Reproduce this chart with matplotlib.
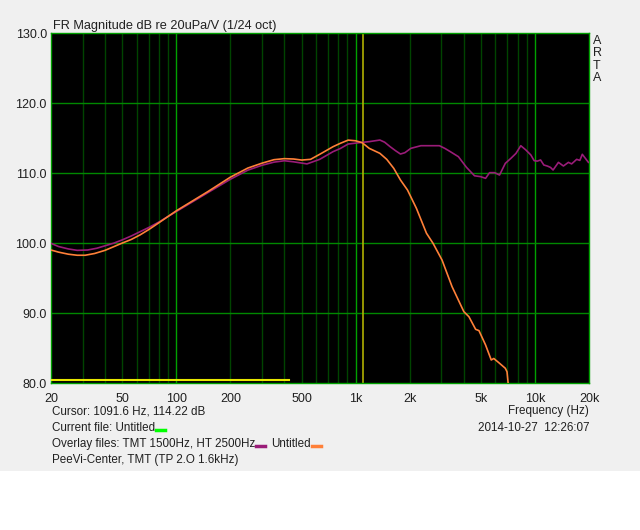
import numpy as np
import matplotlib
matplotlib.use('Agg')
import matplotlib.pyplot as plt
from matplotlib.lines import Line2D
from matplotlib.patches import Rectangle
from matplotlib.ticker import FixedLocator, FixedFormatter, NullFormatter

plt.rcParams['font.family'] = ['Liberation Sans', 'DejaVu Sans']

# overlay "TMT 1500Hz, HT 2500Hz" (purple)
purple_freq = [20, 22, 25, 28, 32, 36, 40, 45, 50, 56, 62.6, 70, 80, 90, 100, 150,
               200, 250, 300, 350, 400, 450, 535, 630, 748, 821, 908, 1046, 1190,
               1364, 1450, 1556, 1665, 1777, 1880, 2030, 2310, 2600, 2930, 3150,
               3370, 3740, 4150, 4600, 4970, 5300, 5580, 5950, 6340, 6830, 7340,
               7830, 8330, 8890, 9480, 9890, 10300, 10740, 11200, 11700, 12200,
               12610, 13510, 14400, 15350, 16000, 17070, 17780, 18350, 19850]
purple_db = [99.95, 99.5, 99.15, 98.95, 99.0, 99.25, 99.6, 100.0, 100.45, 101.0,
             101.6, 102.2, 103.0, 103.8, 104.5, 107.2, 109.1, 110.4, 111.1, 111.55,
             111.75, 111.6, 111.3, 111.95, 113.05, 113.5, 114.14, 114.33, 114.48,
             114.71, 114.4, 113.76, 113.2, 112.71, 112.9, 113.52, 113.9, 113.9,
             113.9, 113.5, 113.05, 112.33, 110.8, 109.6, 109.48, 109.24, 110.05,
             110.05, 109.71, 111.38, 112.1, 112.8, 113.9, 113.29, 112.57, 111.76,
             111.7, 111.86, 111.14, 111.0, 110.8, 110.43, 111.52, 111.0, 111.52,
             111.3, 111.95, 111.8, 112.67, 111.52]

# overlay "Untitled" (orange)
orange_freq = [20, 22, 25, 28, 31, 35, 40, 45, 50, 56, 62.6, 70, 80, 90, 100, 150,
               200, 250, 300, 350, 400, 450, 500, 560, 630, 748, 821, 908, 1000,
               1087, 1190, 1364, 1490, 1630, 1777, 1945, 2181, 2481, 2701, 3030,
               3447, 4010, 4280, 4665, 4870, 5300, 5700, 5890, 6285, 6830, 6980,
               7080, 7150]
orange_db = [99.0, 98.7, 98.4, 98.25, 98.25, 98.5, 98.95, 99.5, 100.0, 100.5,
             101.14, 101.9, 102.9, 103.8, 104.6, 107.35, 109.4, 110.7, 111.4,
             111.9, 112.05, 112.0, 111.85, 111.95, 112.67, 113.76, 114.24, 114.7,
             114.6, 114.33, 113.52, 112.81, 111.95, 110.67, 109.0, 107.57, 104.95,
             101.4, 99.95, 97.57, 93.76, 90.19, 89.47, 87.67, 87.48, 85.43, 83.29,
             83.5, 82.9, 82.1, 81.6, 80.0, 79.0]

# current file trace (yellow) and cursor
current_freq = [20, 424]
current_db = [80.4, 80.4]
cursor_freq = 1091.6

x_ticks = [20, 50, 100, 200, 500, 1000, 2000, 5000, 10000, 20000]
x_tick_labels = ['20', '50', '100', '200', '500', '1k', '2k', '5k', '10k', '20k']
y_ticks = [80, 90, 100, 110, 120, 130]
y_tick_labels = ['80.0', '90.0', '100.0', '110.0', '120.0', '130.0']
minor_grid = [30, 40, 50, 60, 70, 80, 90, 200, 300, 400, 500, 600, 700, 800, 900,
              2000, 3000, 4000, 5000, 6000, 7000, 8000, 9000]
major_grid = [100, 1000, 10000]

W, H = 640, 530
BG = '#f0f0f0'


def fx(x):
    return x / W


def fy(y):
    return 1 - y / H


fig = plt.figure(figsize=(W / 100, H / 100), dpi=100, facecolor=BG)
fig.patches.append(Rectangle((0, 0), 1, fy(471), transform=fig.transFigure,
                             facecolor='white', edgecolor='none', zorder=0))

ax = fig.add_axes([fx(51), fy(383), fx(589) - fx(51), fy(33) - fy(383)])
ax.set_facecolor('black')
ax.set_xscale('log')
ax.set_xlim(20, 20000)
ax.set_ylim(80, 130)

for f in minor_grid:
    ax.axvline(f, color='#004400', lw=1, zorder=1)
for f in major_grid:
    ax.axvline(f, color='#00a000', lw=1, zorder=1)
for v in y_ticks[1:-1]:
    ax.axhline(v, color='#008800', lw=1, zorder=1)

ax.axvline(cursor_freq, color='#b0b000', lw=1.2, zorder=2)
ax.plot(current_freq, current_db, color='#e8e800', lw=1.5, zorder=3)
ax.plot(purple_freq, purple_db, color='#9a1c78', lw=1.2, zorder=3)
ax.plot(orange_freq, orange_db, color='#ff8038', lw=1.2, zorder=4)

for s in ax.spines.values():
    s.set_color('#00a000')
    s.set_linewidth(1)

ax.xaxis.set_major_locator(FixedLocator(x_ticks))
ax.xaxis.set_major_formatter(FixedFormatter(x_tick_labels))
ax.xaxis.set_minor_locator(FixedLocator([]))
ax.xaxis.set_minor_formatter(NullFormatter())
ax.set_yticks(y_ticks)
ax.set_yticklabels(y_tick_labels)
ax.tick_params(length=0, labelsize=9, colors='#202020')
ax.tick_params(axis='x', pad=7)
ax.tick_params(axis='y', pad=3)

fig.text(fx(53), fy(29), 'FR Magnitude dB re 20uPa/V (1/24 oct)', fontsize=9.2,
         va='baseline', ha='left', color='#202020')

for i, ch in enumerate('ARTA'):
    fig.text(fx(597), fy(41 + 12.4 * i), ch, fontsize=9, ha='center', va='center',
             color='#202020')

txt = dict(fontsize=8.4, color='#202020', va='center')
fig.text(fx(52), fy(411), 'Cursor: 1091.6 Hz, 114.22 dB', ha='left', **txt)
fig.text(fx(589), fy(411), 'Frequency (Hz)', ha='right', **txt)
fig.text(fx(589), fy(428), '2014-10-27  12:26:07', ha='right', **txt)
t_cur = fig.text(fx(52), fy(428), 'Current file: Untitled', ha='left', **txt)
t_ov = fig.text(fx(52), fy(444), 'Overlay files: TMT 1500Hz, HT 2500Hz', ha='left', **txt)
fig.text(fx(52), fy(460), 'PeeVi-Center, TMT (TP 2.O 1.6kHz)', ha='left', **txt)

renderer = fig.canvas.get_renderer()


def swatch(x_px, y_px, color):
    fig.add_artist(Line2D([fx(x_px + 1), fx(x_px + 10)], [fy(y_px), fy(y_px)],
                          transform=fig.transFigure, color=color, lw=2.5))


ext = t_cur.get_window_extent(renderer)
swatch(ext.x1, 430, '#00ff00')
ext = t_ov.get_window_extent(renderer)
swatch(ext.x1, 446, '#9a1c78')
t_un = fig.text((ext.x1 + 16) / W, fy(444), 'Untitled', ha='left', **txt)
ext = t_un.get_window_extent(renderer)
swatch(ext.x1, 446, '#ff8038')

fig.savefig('out.png', dpi=100, facecolor=BG)
